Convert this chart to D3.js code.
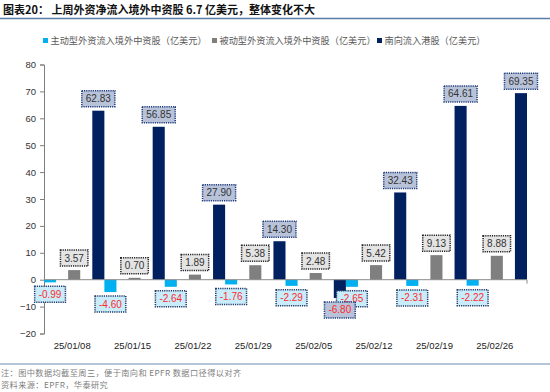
<!DOCTYPE html>
<html>
<head>
<meta charset="utf-8">
<script src="https://cdn.jsdelivr.net/npm/d3@7"></script>
<style>
  body { margin: 0; background: #fff; }
  svg { display: block; font-family: Arial, "Liberation Sans", "Noto Sans CJK SC", sans-serif; }
</style>
</head>
<body>
<svg id="chart" width="550" height="392"></svg>
<script>
// data
var dates = ['25/01/08', '25/01/15', '25/01/22', '25/01/29', '25/02/05', '25/02/12', '25/02/19', '25/02/26'];
var active = [-0.99, -4.60, -2.64, -1.76, -2.29, -2.65, -2.31, -2.22];
var passive = [3.57, 0.70, 1.89, 5.38, 2.48, 5.42, 9.13, 8.88];
var southbound = [62.83, 56.85, 27.90, 14.30, -6.80, 32.43, 64.61, 69.35];
var seriesNames = ['主动型外资流入境外中资股（亿美元）', '被动型外资流入境外中资股（亿美元）', '南向流入港股（亿美元）'];
var yTicks = [-20, -10, 0, 10, 20, 30, 40, 50, 60, 70, 80];

var title = '图表20：  上周外资净流入境外中资股 6.7 亿美元，整体变化不大';
var note = '注：图中数据均截至周三，便于南向和 EPFR 数据口径得以对齐';
var source = '资料来源：EPFR，华泰研究';

var series = [
    {key: 'a', name: seriesNames[0], values: active, color: '#00b0f0', box: '#c9ecfb', border: '#1f3864', text: '#ff2b2b'},
    {key: 'p', name: seriesNames[1], values: passive, color: '#7f7f7f', box: '#e4e4e4', border: '#222', text: '#333'},
    {key: 's', name: seriesNames[2], values: southbound, color: '#002060', box: '#b8c3da', border: '#1f3b7a', text: '#333'}
];

var svg = d3.select('#chart');
var cjk = '"Noto Sans CJK SC", sans-serif';

// title + rule
svg.append('text').attr('x', 3).attr('y', 14)
    .style('font-family', cjk).style('font-weight', 'bold').style('font-size', '11px').attr('fill', '#111')
    .text(title);
svg.append('line').attr('x1', 0).attr('x2', 550).attr('y1', 18.5).attr('y2', 18.5)
    .attr('stroke', '#5a7ca8').attr('stroke-width', 1.4);

// scales
var x = d3.scaleBand().domain(dates).range([44, 527]).padding(0);
var xs = d3.scaleBand().domain(series.map((s) => s.key)).range([0, x.bandwidth()]).paddingInner(0.5).paddingOuter(0);
var y = d3.scaleLinear().domain([-20, 80]).range([333.5, 64.5]);

// y axis
var yAxis = svg.append('g').attr('transform', 'translate(44,0)')
    .call(d3.axisLeft(y).tickValues(yTicks).tickSize(4).tickPadding(4));
yAxis.select('.domain').attr('stroke', '#7f7f7f');
yAxis.selectAll('.tick line').attr('stroke', '#7f7f7f');
yAxis.selectAll('.tick text').attr('fill', '#333').style('font-size', '9.5px').style('font-family', 'Arial, "Liberation Sans", sans-serif');

// bars
var groups = svg.selectAll('g.series').data(series).enter().append('g').classed('series', true)
    .attr('fill', (d) => d.color);
groups.selectAll('rect').data((s) => s.values.map((v, i) => ({v: v, date: dates[i], s: s})))
    .enter().append('rect')
    .attr('x', (d) => x(d.date) + xs(d.s.key))
    .attr('width', xs.bandwidth())
    .attr('y', (d) => y(Math.max(0, d.v)))
    .attr('height', (d) => Math.abs(y(d.v) - y(0)));

// zero line
svg.append('line').attr('x1', 44).attr('x2', 527).attr('y1', y(0)).attr('y2', y(0))
    .attr('stroke', '#8c8c8c').attr('stroke-width', 1);
svg.append('line').attr('x1', 527).attr('x2', 527).attr('y1', y(0)).attr('y2', y(0) + 4)
    .attr('stroke', '#8c8c8c').attr('stroke-width', 1);

// category labels
svg.selectAll('text.cat').data(dates).enter().append('text').classed('cat', true)
    .attr('x', (d) => x(d) + x.bandwidth() / 2 - 2)
    .attr('y', 349)
    .attr('text-anchor', 'middle')
    .attr('fill', '#222')
    .style('font-size', '9.5px')
    .text((d) => d);

// data labels
var labels = svg.append('g');
series.forEach(function(s) {
    s.values.forEach(function(v, i) {
        var cx = x(dates[i]) + xs(s.key) + xs.bandwidth() / 2;
        var h = 16;
        var top = v >= 0 ? y(v) - 4 - h : y(v) + 4;
        var g = labels.append('g');
        var rect = g.append('rect');
        var t = g.append('text')
            .attr('x', cx).attr('y', top + h / 2 + 3.5)
            .attr('text-anchor', 'middle')
            .attr('fill', v < 0 ? '#ff2b2b' : s.text)
            .style('font-size', '10px')
            .text(v.toFixed(2));
        var w = t.node().getComputedTextLength() + 8;
        rect.attr('x', cx - w / 2).attr('y', top).attr('width', w).attr('height', h)
            .attr('fill', s.box)
            .attr('stroke', s.border).attr('stroke-width', 1.5).attr('stroke-dasharray', '1.2,1');
    });
});

// legend
var legX = [43, 212, 377];
var leg = svg.selectAll('g.leg').data(series).enter().append('g').classed('leg', true)
    .attr('transform', (d, i) => 'translate(' + legX[i] + ',37.5)');
leg.append('rect').attr('width', 5).attr('height', 5).attr('y', 0.5).attr('fill', (d) => d.color);
leg.append('text').attr('x', 7.5).attr('y', 6.5)
    .style('font-family', cjk).style('font-size', '9.2px').attr('fill', '#595959')
    .text((d) => d.name);

// footer
svg.append('line').attr('x1', 0).attr('x2', 550).attr('y1', 364).attr('y2', 364)
    .attr('stroke', '#6b8bb5').attr('stroke-width', 1.2);
svg.append('text').attr('x', 1).attr('y', 375.5)
    .style('font-family', cjk).style('font-size', '8.2px').style('letter-spacing', '0.4px')
    .attr('fill', '#808080').text(note);
svg.append('text').attr('x', 1).attr('y', 387.5)
    .style('font-family', cjk).style('font-size', '8.2px').style('letter-spacing', '0.4px')
    .attr('fill', '#808080').text(source);
</script>
</body>
</html>
